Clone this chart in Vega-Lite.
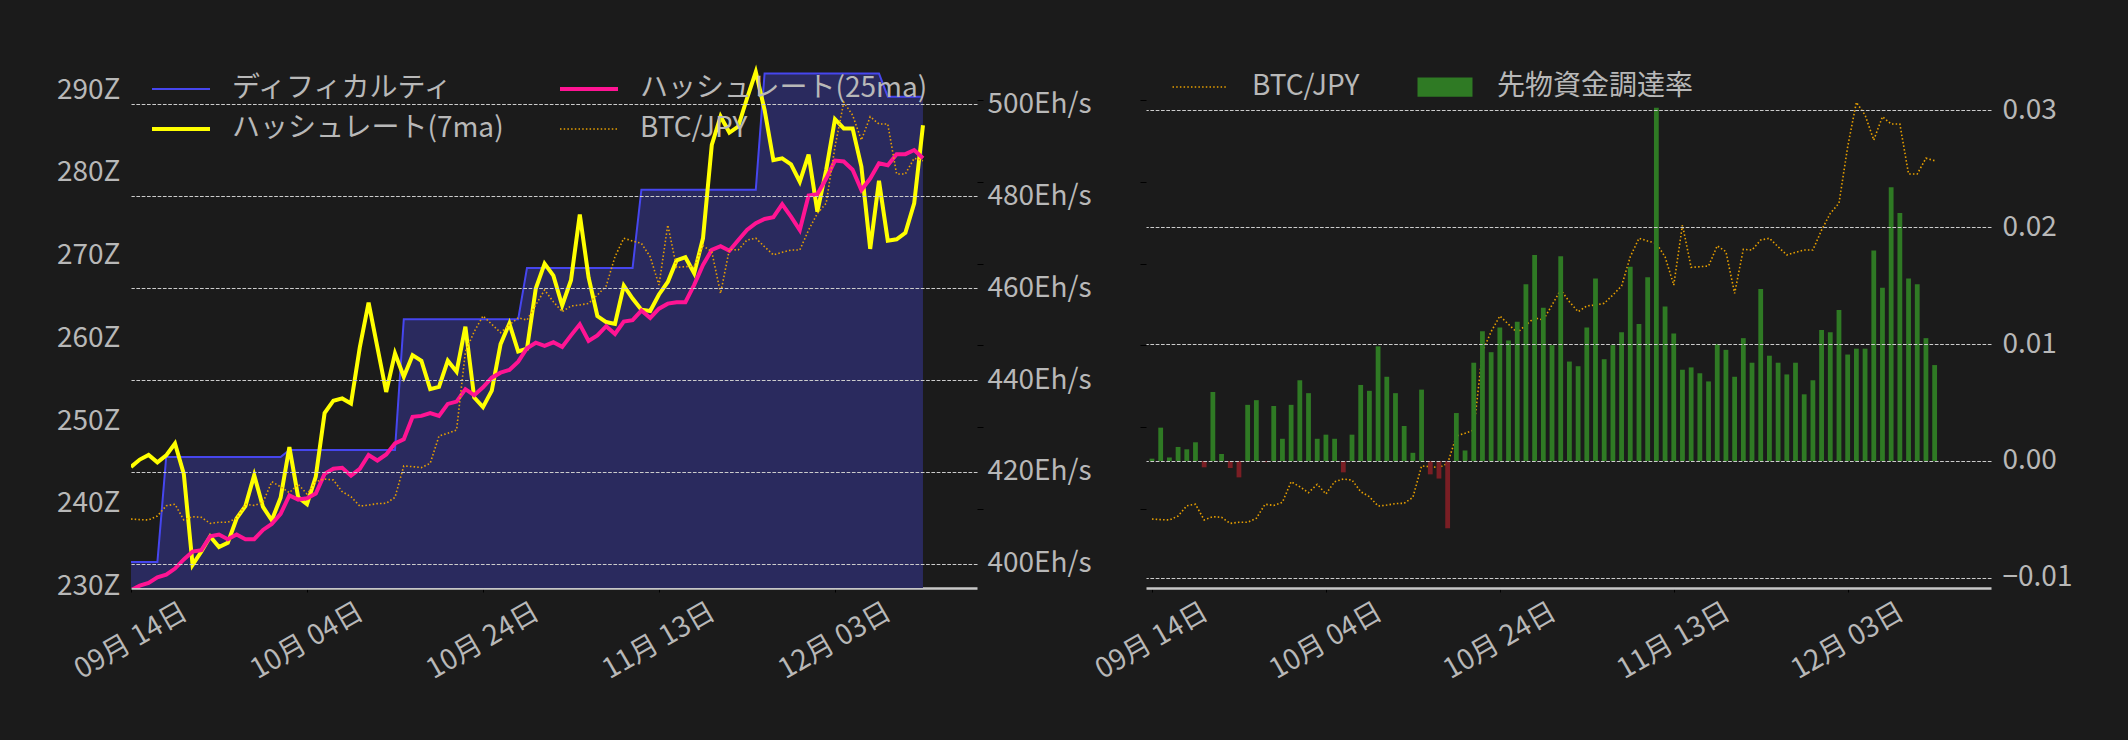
{
  "$schema": "https://vega.github.io/schema/vega-lite/v6.json",
  "background": "#1b1b1b",
  "padding": {"left": 56, "top": 60, "right": 70, "bottom": 60},
  "bounds": "flush",
  "spacing": 169,
  "resolve": {"scale": {"color": "independent"}, "legend": {"color": "independent"}},
  "config": {
    "font": "Noto Sans CJK JP",
    "view": {"stroke": null},
    "axis": {"labelFont": "Noto Sans CJK JP", "labelFontSize": 28, "labelColor": "#b8b8b8", "title": null, "domain": false, "ticks": false, "grid": false},
    "legend": {"labelFont": "Noto Sans CJK JP", "labelFontSize": 28, "labelColor": "#b8b8b8", "title": null, "labelLimit": 0}
  },
  "datasets": {
    "d": [
      {"date": "2023-09-14T00:00:00", "diff": 232.96, "h7": 421.1, "h25": 394.3, "btc": 3939000, "fr": 0.0002},
      {"date": "2023-09-15T00:00:00", "diff": 232.96, "h7": 422.7, "h25": 395.3, "btc": 3935000, "fr": 0.00285},
      {"date": "2023-09-16T00:00:00", "diff": 232.96, "h7": 423.7, "h25": 395.9, "btc": 3933000, "fr": 0.0003},
      {"date": "2023-09-17T00:00:00", "diff": 232.96, "h7": 422.1, "h25": 397.1, "btc": 3957000, "fr": 0.0012},
      {"date": "2023-09-18T00:00:00", "diff": 245.65, "h7": 423.6, "h25": 397.7, "btc": 4020000, "fr": 0.001},
      {"date": "2023-09-19T00:00:00", "diff": 245.65, "h7": 426.2, "h25": 399.0, "btc": 4029000, "fr": 0.0016},
      {"date": "2023-09-20T00:00:00", "diff": 245.65, "h7": 419.6, "h25": 401.0, "btc": 3933000, "fr": -0.00054},
      {"date": "2023-09-21T00:00:00", "diff": 245.65, "h7": 399.8, "h25": 402.7, "btc": 3953000, "fr": 0.0059},
      {"date": "2023-09-22T00:00:00", "diff": 245.65, "h7": 402.7, "h25": 403.0, "btc": 3949000, "fr": 0.0006},
      {"date": "2023-09-23T00:00:00", "diff": 245.65, "h7": 406.0, "h25": 406.0, "btc": 3912000, "fr": -0.0006},
      {"date": "2023-09-24T00:00:00", "diff": 245.65, "h7": 403.7, "h25": 406.4, "btc": 3919000, "fr": -0.0014},
      {"date": "2023-09-25T00:00:00", "diff": 245.65, "h7": 404.6, "h25": 405.4, "btc": 3919000, "fr": 0.0048},
      {"date": "2023-09-26T00:00:00", "diff": 245.65, "h7": 409.9, "h25": 406.4, "btc": 3943000, "fr": 0.0052},
      {"date": "2023-09-27T00:00:00", "diff": 245.65, "h7": 412.6, "h25": 405.4, "btc": 4029000, "fr": -0.0001},
      {"date": "2023-09-28T00:00:00", "diff": 245.65, "h7": 419.3, "h25": 405.4, "btc": 4022000, "fr": 0.0047},
      {"date": "2023-09-29T00:00:00", "diff": 245.65, "h7": 412.4, "h25": 407.4, "btc": 4041000, "fr": 0.0019},
      {"date": "2023-09-30T00:00:00", "diff": 245.65, "h7": 409.5, "h25": 408.7, "btc": 4167000, "fr": 0.0048},
      {"date": "2023-10-01T00:00:00", "diff": 245.65, "h7": 414.4, "h25": 410.9, "btc": 4136000, "fr": 0.0069},
      {"date": "2023-10-02T00:00:00", "diff": 246.5, "h7": 425.4, "h25": 414.9, "btc": 4100000, "fr": 0.0058},
      {"date": "2023-10-03T00:00:00", "diff": 246.5, "h7": 414.5, "h25": 414.0, "btc": 4151000, "fr": 0.0019},
      {"date": "2023-10-04T00:00:00", "diff": 246.5, "h7": 413.0, "h25": 414.3, "btc": 4092000, "fr": 0.00225},
      {"date": "2023-10-05T00:00:00", "diff": 246.5, "h7": 419.0, "h25": 415.3, "btc": 4167000, "fr": 0.0019},
      {"date": "2023-10-06T00:00:00", "diff": 246.5, "h7": 432.8, "h25": 419.6, "btc": 4183000, "fr": -0.00097},
      {"date": "2023-10-07T00:00:00", "diff": 246.5, "h7": 435.5, "h25": 420.7, "btc": 4177000, "fr": 0.00225},
      {"date": "2023-10-08T00:00:00", "diff": 246.5, "h7": 436.0, "h25": 420.9, "btc": 4106000, "fr": 0.0065},
      {"date": "2023-10-09T00:00:00", "diff": 246.5, "h7": 434.9, "h25": 419.2, "btc": 4075000, "fr": 0.006},
      {"date": "2023-10-10T00:00:00", "diff": 246.5, "h7": 447.1, "h25": 420.7, "btc": 4018000, "fr": 0.0098},
      {"date": "2023-10-11T00:00:00", "diff": 246.5, "h7": 456.8, "h25": 423.7, "btc": 4024000, "fr": 0.0072},
      {"date": "2023-10-12T00:00:00", "diff": 246.5, "h7": 447.1, "h25": 422.5, "btc": 4033000, "fr": 0.0058},
      {"date": "2023-10-13T00:00:00", "diff": 246.5, "h7": 437.4, "h25": 423.8, "btc": 4035000, "fr": 0.003},
      {"date": "2023-10-14T00:00:00", "diff": 246.5, "h7": 445.8, "h25": 426.2, "btc": 4071000, "fr": 0.0007},
      {"date": "2023-10-15T00:00:00", "diff": 262.3, "h7": 440.7, "h25": 427.1, "btc": 4263000, "fr": 0.0061},
      {"date": "2023-10-16T00:00:00", "diff": 262.3, "h7": 445.4, "h25": 432.0, "btc": 4259000, "fr": -0.00114},
      {"date": "2023-10-17T00:00:00", "diff": 262.3, "h7": 444.2, "h25": 432.2, "btc": 4253000, "fr": -0.0015},
      {"date": "2023-10-18T00:00:00", "diff": 262.3, "h7": 438.0, "h25": 432.8, "btc": 4279000, "fr": -0.00575},
      {"date": "2023-10-19T00:00:00", "diff": 262.3, "h7": 438.5, "h25": 432.2, "btc": 4446000, "fr": 0.0041},
      {"date": "2023-10-20T00:00:00", "diff": 262.3, "h7": 444.2, "h25": 434.8, "btc": 4463000, "fr": 0.0009},
      {"date": "2023-10-21T00:00:00", "diff": 262.3, "h7": 441.8, "h25": 435.3, "btc": 4483000, "fr": 0.0084},
      {"date": "2023-10-22T00:00:00", "diff": 262.3, "h7": 451.6, "h25": 438.0, "btc": 4962000, "fr": 0.0111},
      {"date": "2023-10-23T00:00:00", "diff": 262.3, "h7": 436.2, "h25": 436.7, "btc": 5084000, "fr": 0.0093},
      {"date": "2023-10-24T00:00:00", "diff": 262.3, "h7": 434.1, "h25": 438.4, "btc": 5180000, "fr": 0.0114},
      {"date": "2023-10-25T00:00:00", "diff": 262.3, "h7": 437.7, "h25": 440.5, "btc": 5129000, "fr": 0.0103},
      {"date": "2023-10-26T00:00:00", "diff": 262.3, "h7": 447.8, "h25": 441.6, "btc": 5078000, "fr": 0.0119},
      {"date": "2023-10-27T00:00:00", "diff": 262.3, "h7": 452.3, "h25": 442.2, "btc": 5125000, "fr": 0.0151},
      {"date": "2023-10-28T00:00:00", "diff": 262.3, "h7": 446.2, "h25": 444.0, "btc": 5169000, "fr": 0.0176},
      {"date": "2023-10-29T00:00:00", "diff": 268.5, "h7": 446.8, "h25": 446.9, "btc": 5155000, "fr": 0.0131},
      {"date": "2023-10-30T00:00:00", "diff": 268.5, "h7": 459.9, "h25": 448.1, "btc": 5247000, "fr": 0.0099},
      {"date": "2023-10-31T00:00:00", "diff": 268.5, "h7": 465.3, "h25": 447.4, "btc": 5339000, "fr": 0.0175},
      {"date": "2023-11-01T00:00:00", "diff": 268.5, "h7": 462.7, "h25": 448.2, "btc": 5267000, "fr": 0.0085},
      {"date": "2023-11-02T00:00:00", "diff": 268.5, "h7": 456.2, "h25": 447.2, "btc": 5206000, "fr": 0.0081},
      {"date": "2023-11-03T00:00:00", "diff": 268.5, "h7": 461.7, "h25": 449.7, "btc": 5241000, "fr": 0.0114},
      {"date": "2023-11-04T00:00:00", "diff": 268.5, "h7": 476.0, "h25": 452.1, "btc": 5247000, "fr": 0.0156},
      {"date": "2023-11-05T00:00:00", "diff": 268.5, "h7": 462.3, "h25": 448.5, "btc": 5257000, "fr": 0.0087},
      {"date": "2023-11-06T00:00:00", "diff": 268.5, "h7": 453.9, "h25": 449.7, "btc": 5308000, "fr": 0.0099},
      {"date": "2023-11-07T00:00:00", "diff": 268.5, "h7": 452.6, "h25": 451.7, "btc": 5363000, "fr": 0.0110},
      {"date": "2023-11-08T00:00:00", "diff": 268.5, "h7": 452.2, "h25": 450.0, "btc": 5542000, "fr": 0.0166},
      {"date": "2023-11-09T00:00:00", "diff": 268.5, "h7": 460.5, "h25": 452.7, "btc": 5655000, "fr": 0.0117},
      {"date": "2023-11-10T00:00:00", "diff": 268.5, "h7": 457.7, "h25": 453.0, "btc": 5638000, "fr": 0.0157},
      {"date": "2023-11-11T00:00:00", "diff": 277.95, "h7": 455.3, "h25": 455.1, "btc": 5624000, "fr": 0.0302},
      {"date": "2023-11-12T00:00:00", "diff": 277.95, "h7": 455.0, "h25": 453.5, "btc": 5542000, "fr": 0.0132},
      {"date": "2023-11-13T00:00:00", "diff": 277.95, "h7": 458.6, "h25": 455.5, "btc": 5369000, "fr": 0.0109},
      {"date": "2023-11-14T00:00:00", "diff": 277.95, "h7": 461.3, "h25": 456.6, "btc": 5736000, "fr": 0.0078},
      {"date": "2023-11-15T00:00:00", "diff": 277.95, "h7": 466.0, "h25": 456.9, "btc": 5477000, "fr": 0.0080},
      {"date": "2023-11-16T00:00:00", "diff": 277.95, "h7": 466.7, "h25": 456.9, "btc": 5481000, "fr": 0.0075},
      {"date": "2023-11-17T00:00:00", "diff": 277.95, "h7": 463.2, "h25": 460.7, "btc": 5485000, "fr": 0.0068},
      {"date": "2023-11-18T00:00:00", "diff": 277.95, "h7": 470.8, "h25": 465.0, "btc": 5609000, "fr": 0.0100},
      {"date": "2023-11-19T00:00:00", "diff": 277.95, "h7": 491.1, "h25": 468.3, "btc": 5573000, "fr": 0.0095},
      {"date": "2023-11-20T00:00:00", "diff": 277.95, "h7": 497.3, "h25": 469.1, "btc": 5318000, "fr": 0.0072},
      {"date": "2023-11-21T00:00:00", "diff": 277.95, "h7": 493.8, "h25": 468.1, "btc": 5587000, "fr": 0.0105},
      {"date": "2023-11-22T00:00:00", "diff": 277.95, "h7": 495.1, "h25": 470.4, "btc": 5583000, "fr": 0.0084},
      {"date": "2023-11-23T00:00:00", "diff": 277.95, "h7": 501.2, "h25": 472.6, "btc": 5644000, "fr": 0.0147},
      {"date": "2023-11-24T00:00:00", "diff": 277.95, "h7": 507.0, "h25": 474.1, "btc": 5655000, "fr": 0.0090},
      {"date": "2023-11-25T00:00:00", "diff": 292.0, "h7": 498.7, "h25": 475.0, "btc": 5603000, "fr": 0.0084},
      {"date": "2023-11-26T00:00:00", "diff": 292.0, "h7": 487.8, "h25": 475.4, "btc": 5553000, "fr": 0.0074},
      {"date": "2023-11-27T00:00:00", "diff": 292.0, "h7": 488.2, "h25": 478.2, "btc": 5569000, "fr": 0.0084},
      {"date": "2023-11-28T00:00:00", "diff": 292.0, "h7": 486.9, "h25": 475.5, "btc": 5583000, "fr": 0.0057},
      {"date": "2023-11-29T00:00:00", "diff": 292.0, "h7": 483.1, "h25": 472.6, "btc": 5583000, "fr": 0.0069},
      {"date": "2023-11-30T00:00:00", "diff": 292.0, "h7": 489.0, "h25": 480.1, "btc": 5705000, "fr": 0.0112},
      {"date": "2023-12-01T00:00:00", "diff": 292.0, "h7": 476.6, "h25": 480.4, "btc": 5807000, "fr": 0.0110},
      {"date": "2023-12-02T00:00:00", "diff": 292.0, "h7": 485.7, "h25": 483.8, "btc": 5869000, "fr": 0.0129},
      {"date": "2023-12-03T00:00:00", "diff": 292.0, "h7": 496.7, "h25": 487.7, "btc": 6214000, "fr": 0.0091},
      {"date": "2023-12-04T00:00:00", "diff": 292.0, "h7": 494.7, "h25": 487.5, "btc": 6486000, "fr": 0.0096},
      {"date": "2023-12-05T00:00:00", "diff": 292.0, "h7": 494.7, "h25": 485.7, "btc": 6408000, "fr": 0.0096},
      {"date": "2023-12-06T00:00:00", "diff": 292.0, "h7": 486.4, "h25": 481.3, "btc": 6255000, "fr": 0.0180},
      {"date": "2023-12-07T00:00:00", "diff": 292.0, "h7": 468.5, "h25": 483.8, "btc": 6398000, "fr": 0.0148},
      {"date": "2023-12-08T00:00:00", "diff": 292.0, "h7": 483.3, "h25": 487.1, "btc": 6353000, "fr": 0.0234},
      {"date": "2023-12-09T00:00:00", "diff": 289.2, "h7": 470.3, "h25": 486.7, "btc": 6353000, "fr": 0.0212},
      {"date": "2023-12-10T00:00:00", "diff": 289.2, "h7": 470.6, "h25": 489.1, "btc": 6048000, "fr": 0.0156},
      {"date": "2023-12-11T00:00:00", "diff": 289.2, "h7": 472.0, "h25": 489.1, "btc": 6048000, "fr": 0.0151},
      {"date": "2023-12-12T00:00:00", "diff": 289.2, "h7": 478.4, "h25": 490.0, "btc": 6144000, "fr": 0.0105},
      {"date": "2023-12-13T00:00:00", "diff": 289.2, "h7": 495.4, "h25": 488.2, "btc": 6129000, "fr": 0.0082}
    ]
  },
  "hconcat": [
    {
      "width": 846,
      "height": 528,
      "data": {"name": "d"},
      "layer": [
        {
          "mark": {"type": "area", "color": "#2a2a5e", "opacity": 1, "clip": true},
          "encoding": {
            "x": {
              "field": "date", "type": "temporal",
              "scale": {"domain": [{"year": 2023, "month": 9, "date": 14}, {"year": 2023, "month": 12, "date": 19, "hours": 3, "minutes": 20}]},
              "axis": {
                "values": [{"year": 2023, "month": 9, "date": 14}, {"year": 2023, "month": 10, "date": 4}, {"year": 2023, "month": 10, "date": 24}, {"year": 2023, "month": 11, "date": 13}, {"year": 2023, "month": 12, "date": 3}],
                "format": "%m月 %d日", "formatType": "time",
                "labelAngle": -30, "labelAlign": "center", "labelBaseline": "middle", "labelPadding": 49,
                "labelOverlap": false, "labelFlush": false, "labelBound": false,
                "domain": true, "domainColor": "#c8c8c8", "domainWidth": 2.5,
                "ticks": true, "tickColor": "#000000", "tickSize": 4, "tickWidth": 1
              }
            },
            "y": {
              "field": "diff", "type": "quantitative",
              "scale": {"domain": [229.82, 293.63], "zero": false, "nice": false},
              "axis": {"orient": "left", "values": [230, 240, 250, 260, 270, 280, 290], "labelExpr": "datum.value + 'Z'", "labelPadding": 11}
            },
            "y2": {"datum": 229.82}
          }
        },
        {
          "mark": {"type": "line", "strokeWidth": 2, "clip": true},
          "encoding": {
            "x": {"field": "date", "type": "temporal"},
            "y": {"field": "diff", "type": "quantitative", "scale": {"domain": [229.82, 293.63], "zero": false, "nice": false}, "axis": null},
            "color": {
              "datum": "ディフィカルティ", "type": "nominal",
              "scale": {"domain": ["ディフィカルティ", "ハッシュレート(7ma)", "ハッシュレート(25ma)", "BTC/JPY"], "range": ["#4646ee", "#ffff00", "#ff1493", "#e8a000"]},
              "legend": {
                "orient": "none", "legendX": 36, "legendY": 15, "columns": 2,
                "symbolType": "stroke", "symbolSize": 3364, "symbolStrokeWidth": 2,
                "labelOffset": 37, "columnPadding": 47, "rowPadding": 12,
                "encode": {
                  "symbols": {
                    "update": {
                      "strokeWidth": {"signal": "datum.value === 'ディフィカルティ' ? 2 : (datum.value === 'BTC/JPY' ? 1.6 : 4)"},
                      "strokeDash": {"signal": "datum.value === 'BTC/JPY' ? [1.5, 2.2] : [1, 0]"}
                    }
                  }
                }
              }
            }
          }
        },
        {
          "mark": {"type": "line", "strokeWidth": 4, "clip": true},
          "encoding": {
            "x": {"field": "date", "type": "temporal"},
            "y": {
              "field": "h7", "type": "quantitative",
              "scale": {"domain": [394.78, 509.57], "zero": false, "nice": false},
              "axis": {"orient": "right", "values": [400, 420, 440, 460, 480, 500], "labelExpr": "datum.value + 'Eh/s'", "labelPadding": 10, "grid": true, "gridColor": "#cccccc", "gridDash": [3.7, 1.6], "gridWidth": 1, "zindex": 1}
            },
            "color": {"datum": "ハッシュレート(7ma)", "type": "nominal", "scale": {"domain": ["ディフィカルティ", "ハッシュレート(7ma)", "ハッシュレート(25ma)", "BTC/JPY"], "range": ["#4646ee", "#ffff00", "#ff1493", "#e8a000"]}}
          }
        },
        {
          "mark": {"type": "line", "strokeWidth": 4, "clip": true},
          "encoding": {
            "x": {"field": "date", "type": "temporal"},
            "y": {"field": "h25", "type": "quantitative", "scale": {"domain": [394.78, 509.57], "zero": false, "nice": false}, "axis": null},
            "color": {"datum": "ハッシュレート(25ma)", "type": "nominal", "scale": {"domain": ["ディフィカルティ", "ハッシュレート(7ma)", "ハッシュレート(25ma)", "BTC/JPY"], "range": ["#4646ee", "#ffff00", "#ff1493", "#e8a000"]}}
          }
        },
        {
          "mark": {"type": "line", "strokeWidth": 1.6, "strokeDash": [1.5, 2.2], "clip": true},
          "encoding": {
            "x": {"field": "date", "type": "temporal"},
            "y": {
              "field": "btc", "type": "quantitative",
              "scale": {"domain": [3517100, 6744500], "zero": false, "nice": false},
              "axis": {"orient": "right", "values": [4000000, 4500000, 5000000, 5500000, 6000000, 6500000], "labels": false, "ticks": true, "tickColor": "#000000", "tickSize": 6, "domain": false, "grid": false}
            },
            "color": {"datum": "BTC/JPY", "type": "nominal", "scale": {"domain": ["ディフィカルティ", "ハッシュレート(7ma)", "ハッシュレート(25ma)", "BTC/JPY"], "range": ["#4646ee", "#ffff00", "#ff1493", "#e8a000"]}}
          }
        }
      ],
      "resolve": {"scale": {"y": "independent"}}
    },
    {
      "width": 845,
      "height": 528,
      "data": {"name": "d"},
      "layer": [
        {
          "mark": {"type": "line", "strokeWidth": 1.6, "strokeDash": [1.5, 2.2], "clip": true},
          "encoding": {
            "x": {
              "field": "date", "type": "temporal",
              "scale": {"domain": [{"year": 2023, "month": 9, "date": 13, "hours": 21, "minutes": 16}, {"year": 2023, "month": 12, "date": 18, "hours": 21, "minutes": 45}]},
              "axis": {
                "values": [{"year": 2023, "month": 9, "date": 14}, {"year": 2023, "month": 10, "date": 4}, {"year": 2023, "month": 10, "date": 24}, {"year": 2023, "month": 11, "date": 13}, {"year": 2023, "month": 12, "date": 3}],
                "format": "%m月 %d日", "formatType": "time",
                "labelAngle": -30, "labelAlign": "center", "labelBaseline": "middle", "labelPadding": 49,
                "labelOverlap": false, "labelFlush": false, "labelBound": false,
                "domain": true, "domainColor": "#c8c8c8", "domainWidth": 2.5,
                "ticks": true, "tickColor": "#000000", "tickSize": 4, "tickWidth": 1
              }
            },
            "y": {
              "field": "btc", "type": "quantitative",
              "scale": {"domain": [3517100, 6744500], "zero": false, "nice": false},
              "axis": {"orient": "left", "values": [4000000, 4500000, 5000000, 5500000, 6000000, 6500000], "labels": false, "ticks": true, "tickColor": "#000000", "tickSize": 6, "domain": false, "grid": false}
            },
            "color": {
              "datum": "BTC/JPY", "type": "nominal",
              "scale": {"domain": ["BTC/JPY", "先物資金調達率"], "range": ["#e8a000", "#2f7a24"]},
              "legend": {
                "orient": "none", "legendX": 40, "legendY": 13, "columns": 2,
                "symbolSize": 3025, "labelOffset": 38, "columnPadding": 57,
                "encode": {
                  "symbols": {
                    "update": {
                      "shape": {"signal": "datum.value === 'BTC/JPY' ? 'stroke' : 'M-1,-0.35H1V0.35H-1Z'"},
                      "fill": {"signal": "datum.value === 'BTC/JPY' ? 'transparent' : '#2f7a24'"},
                      "stroke": {"signal": "datum.value === 'BTC/JPY' ? '#e8a000' : 'transparent'"},
                      "strokeWidth": {"signal": "datum.value === 'BTC/JPY' ? 1.6 : 0"},
                      "strokeDash": {"signal": "datum.value === 'BTC/JPY' ? [1.5, 2.2] : [1, 0]"},
                      "opacity": {"value": 1}
                    }
                  }
                }
              }
            }
          }
        },
        {
          "mark": {"type": "bar", "width": 4.8, "clip": true},
          "encoding": {
            "x": {"field": "date", "type": "temporal"},
            "y": {
              "field": "fr", "type": "quantitative",
              "scale": {"domain": [-0.010855, 0.034274], "zero": false, "nice": false},
              "axis": {"orient": "right", "values": [-0.01, 0, 0.01, 0.02, 0.03], "format": ".2f", "labelPadding": 11, "grid": true, "gridColor": "#cccccc", "gridDash": [3.7, 1.6], "gridWidth": 1, "zindex": 1}
            },
            "y2": {"datum": 0},
            "color": {
              "datum": "先物資金調達率", "type": "nominal",
              "condition": {"test": "datum.fr < 0", "value": "#7a1e24"},
              "scale": {"domain": ["BTC/JPY", "先物資金調達率"], "range": ["#e8a000", "#2f7a24"]}
            }
          }
        }
      ],
      "resolve": {"scale": {"y": "independent"}}
    }
  ]
}
